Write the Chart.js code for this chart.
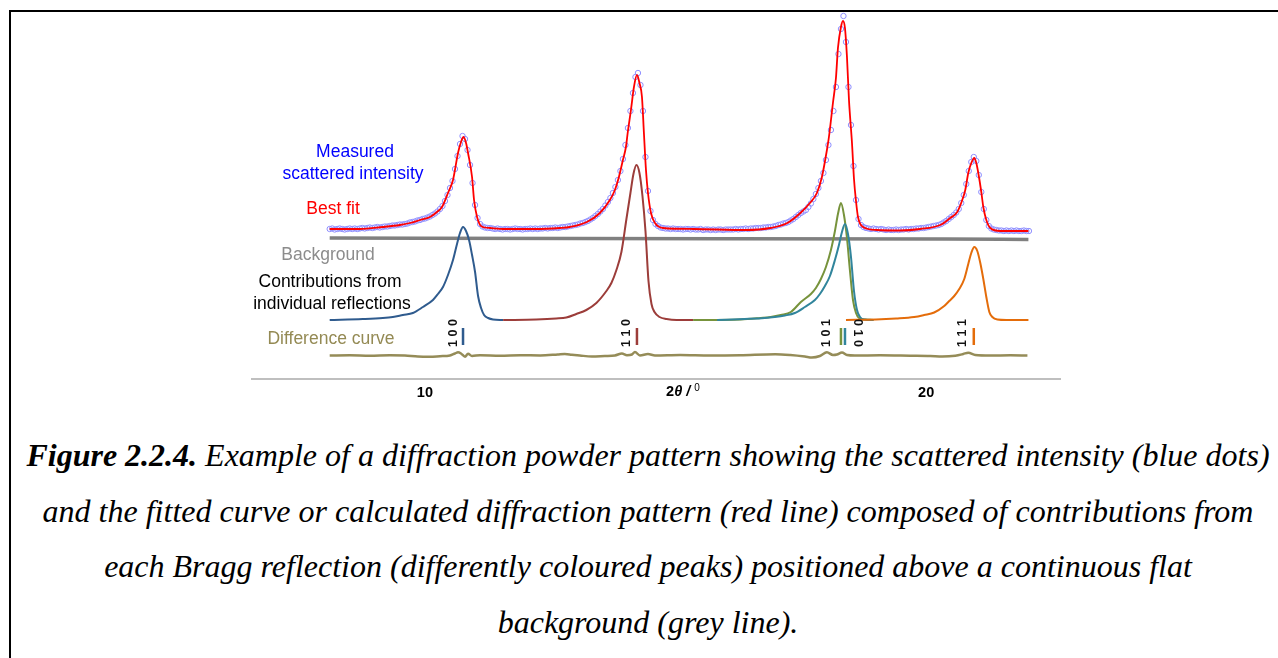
<!DOCTYPE html>
<html>
<head>
<meta charset="utf-8">
<script src="https://cdn.jsdelivr.net/npm/chart.js@4"></script>
<style>
  body { margin: 0; background: #fff; width: 1278px; height: 658px; overflow: hidden; position: relative;
         font-family: "Liberation Sans", Arial, sans-serif; }
  #frame { position: absolute; left: 9px; top: 10px; width: 1300px; height: 700px;
           border-top: 2px solid #000; border-left: 2px solid #000; }
  #wrap { position: absolute; left: 0; top: 0; width: 1278px; height: 420px; }
  .lbl { position: absolute; transform: translate(-50%, -50%); white-space: nowrap; font-size: 17.5px; }
  #caption { position: absolute; left: 20px; width: 1256px; top: 428px; text-align: center;
             font-family: "Liberation Serif", "Times New Roman", serif; font-style: italic;
             font-size: 32px; line-height: 55.7px; color: #000; }
</style>
</head>
<body>
<div id="frame"></div>
<div id="wrap"><canvas id="xrd" width="1278" height="420"></canvas></div>

<div class="lbl" style="left:355px;top:151px;color:#0000ff">Measured</div>
<div class="lbl" style="left:353px;top:173px;color:#0000ff">scattered intensity</div>
<div class="lbl" style="left:333px;top:208px;color:#ff0000">Best fit</div>
<div class="lbl" style="left:328px;top:254px;color:#8c8c8c">Background</div>
<div class="lbl" style="left:330px;top:281px;color:#000">Contributions from</div>
<div class="lbl" style="left:332px;top:303px;color:#000">individual reflections</div>
<div class="lbl" style="left:331px;top:338px;color:#948a54">Difference curve</div>
<div class="lbl" style="left:683px;top:391px;font-size:14.5px;font-weight:bold">2<i>θ</i> <i>/</i> <span style="font-weight:normal;font-size:10px;position:relative;top:-5px">0</span></div>

<div id="caption"><b>Figure 2.2.4.</b> Example of a diffraction powder pattern showing the scattered intensity (blue dots)<br>and the fitted curve or calculated diffraction pattern (red line) composed of contributions from<br>each Bragg reflection (differently coloured peaks) positioned above a continuous flat<br>background (grey line).</div>

<script>
// 測定データ (2θ = 8.10° から 0.05° 刻み)
const scanStart = 8.10;
const scanStep = 0.05;
const measured = [
  150, 150.5, 149.5, 150, 150.5, 150, 149.5, 150, 150.5, 150, 150.5, 150, 150.5, 151, 150.5, 151, 151.5, 151, 151.5, 152,
  151.5, 152, 152.5, 152.5, 153, 153.5, 153.5, 154, 154.5, 154.5, 155, 155.5, 156.5, 157, 157.5, 158.5, 159, 160, 160.5, 161.5,
  162.5, 164, 165.5, 167.5, 170, 173, 178, 184, 191, 198, 210, 223, 235, 243, 240, 229, 214, 196, 174, 161,
  155, 152.5, 151.5, 151, 151, 150.5, 150, 150.5, 150, 149.5, 150, 150, 149.5, 150, 150.5, 150, 150, 149.5, 150, 150,
  150.5, 150, 150.5, 150, 150.5, 150.5, 151, 150.5, 151, 151, 151.5, 151, 151.5, 152, 152, 152.5, 153, 153.5, 154, 154.5,
  155.5, 156, 157, 158, 159.5, 161, 163, 165, 167.5, 170, 173.5, 177, 181, 186, 192, 199, 208, 220, 234, 251,
  268, 286, 302, 306, 294, 268, 222, 188, 168, 159, 155, 153, 151.5, 151, 150.5, 150.5, 150, 150.5, 150, 150,
  150, 149.5, 150, 150, 149.5, 150, 149.5, 149.5, 150, 149, 149.5, 149.5, 149, 149.5, 149, 149.5, 149.5, 149, 149.5, 149.5,
  149.5, 149.5, 150, 149.5, 150, 150, 150.5, 150, 150.5, 150.5, 151, 151, 151, 151.5, 151.5, 152, 152, 152.5, 153, 154,
  154.5, 155.5, 156, 157, 158.5, 160, 162, 164, 166, 167.5, 169, 172, 175.5, 180, 185, 191, 198, 206, 219, 234,
  249, 268, 292, 325, 350, 363, 337, 292, 254, 213, 179, 160, 154, 152, 151, 150.5, 150, 150.5, 150, 149.5,
  150, 149.5, 149, 149.5, 149, 149, 149.5, 149, 149.5, 149.5, 150, 149.5, 150, 150, 150.5, 150.5, 151, 151, 151.5, 152,
  152.5, 153, 153.5, 154, 155, 156.5, 158, 160, 162, 164, 166.5, 170, 176, 184, 195, 208, 217, 222, 218, 204,
  187, 170, 159, 153, 150.5, 149.5, 149, 148.5, 148.5, 148, 148.5, 148, 148.5, 148, 148.5, 148, 148, 148.5, 148, 148
];

// 最適フィット曲線
const fitX = [8.10, 8.70, 9.16, 9.50, 9.70, 9.90, 10.10, 10.24, 10.34, 10.46, 10.56, 10.66, 10.72, 10.77, 10.82, 10.86,
  10.94, 10.98, 11.04, 11.10, 11.20, 11.30, 11.60, 12.20, 12.69, 12.89, 13.23, 13.49, 13.69, 13.79, 13.87, 13.95, 14.01,
  14.05, 14.11, 14.17, 14.23, 14.28, 14.33, 14.37, 14.41, 14.45, 14.51, 14.59, 14.75, 15.35, 16.40, 16.89, 17.23, 17.49,
  17.68, 17.82, 17.92, 18.02, 18.06, 18.14, 18.20, 18.24, 18.30, 18.34, 18.38, 18.42, 18.46, 18.52, 18.56, 18.60, 18.64,
  18.74, 19.02, 19.48, 19.88, 20.28, 20.48, 20.62, 20.72, 20.78, 20.84, 20.90, 20.96, 21.00, 21.04, 21.10, 21.14, 21.20,
  21.28, 21.48, 22.04];
const fitY = [150, 150, 152, 154, 156, 159, 162, 167, 172, 186, 199, 226, 237, 242, 236, 226,
  202, 179, 162, 154, 151.5, 151, 150, 150, 151, 152, 157, 166, 179, 189, 202, 219, 232,
  248, 269, 292, 304, 296, 282, 245, 209, 186, 166, 156, 151, 150, 149, 151, 156, 166,
  176, 186, 202, 229, 242, 276, 301, 331, 352, 358, 351, 322, 279, 236, 200, 178, 162,
  152, 149, 148.5, 150, 154, 161, 167, 179, 189, 206, 216, 221, 216, 206, 187, 172, 159,
  151, 148, 148];

// バックグラウンド
const bgX = [8.10, 13.00, 20.40, 22.04];
const bgY = [141, 140.5, 140, 139.5];

// 各反射の寄与
const blueX = [8.10, 8.76, 9.16, 9.36, 9.56, 9.76, 9.96, 10.16, 10.26, 10.36, 10.46, 10.56, 10.64, 10.70, 10.76, 10.82,
  10.88, 10.94, 11.00, 11.06, 11.12, 11.18, 11.26, 11.36, 11.56];
const blueY = [59, 60, 61, 62, 64, 66, 72, 79, 85, 92, 104, 119, 135, 146, 152, 148,
  139, 124, 107, 83, 71, 64, 61, 59.5, 59];
const brownX = [11.56, 12.22, 12.62, 12.82, 13.02, 13.22, 13.42, 13.62, 13.72, 13.82, 13.92, 14.02, 14.10, 14.16, 14.22,
  14.28, 14.34, 14.40, 14.46, 14.52, 14.58, 14.68, 14.82, 15.02, 15.35];
const brownY = [59, 59.5, 60.5, 61.5, 65, 69, 76, 88, 96, 109, 127, 160, 186, 205, 214,
  206, 183, 148, 98, 75, 67, 62, 60, 59, 59];
const greenX = [15.35, 16.30, 16.70, 16.90, 17.10, 17.30, 17.50, 17.70, 17.80, 17.90, 18.00, 18.10, 18.18, 18.24, 18.30,
  18.36, 18.42, 18.48, 18.54, 18.60, 18.66, 18.78, 18.95];
const greenY = [59, 59.5, 61, 62, 64, 67, 77, 85, 91, 100, 112, 129, 148, 165, 176,
  164, 141, 108, 79, 66, 61, 59.5, 59];
const tealX = [15.83, 16.38, 16.78, 16.98, 17.18, 17.38, 17.58, 17.78, 17.88, 17.98, 18.08, 18.18, 18.26, 18.32, 18.38,
  18.44, 18.50, 18.56, 18.62, 18.68, 18.76, 18.95];
const tealY = [59, 60, 61, 62, 63.5, 66, 72, 79, 85, 93, 103, 119, 134, 147, 155,
  145, 122, 88, 69, 62, 59.5, 59];
const orangeX = [18.40, 19.00, 19.40, 19.76, 19.96, 20.16, 20.36, 20.46, 20.56, 20.66, 20.76, 20.84, 20.90, 20.96, 21.02,
  21.08, 21.14, 21.20, 21.26, 21.32, 21.42, 21.60, 22.04];
const orangeY = [59, 59.5, 60.5, 62, 64, 66.5, 73, 78, 83, 90, 100, 115, 126, 132, 128,
  116, 100, 82, 67, 62, 59.5, 59, 59];

// 差分曲線
const diffX = [8.10, 8.50, 8.90, 9.30, 9.60, 9.86, 10.10, 10.30, 10.50, 10.60, 10.66, 10.72, 10.80, 10.86, 10.94, 11.10,
  11.50, 11.90, 12.30, 12.65, 12.79, 12.93, 13.09, 13.33, 13.59, 13.79, 13.93, 14.03, 14.13, 14.19, 14.29, 14.45, 14.59,
  15.09, 15.69, 16.29, 16.99, 17.29, 17.58, 17.72, 17.88, 18.02, 18.14, 18.22, 18.32, 18.42, 18.58, 19.08, 19.68, 20.08,
  20.32, 20.58, 20.74, 20.84, 20.98, 21.28, 21.68, 22.02];
const diffY = [23.5, 23.8, 23.3, 23.8, 23.5, 22.5, 22.3, 22.8, 23.5, 25.5, 26.7, 25.5, 22.3, 25.3, 23.0, 23.8,
  23.3, 23.8, 23.5, 24.5, 25.0, 24.3, 23.5, 22.5, 23.0, 23.5, 25.5, 23.8, 24.5, 27.0, 23.5, 25.0, 23.5,
  24.0, 23.5, 23.8, 24.8, 24.0, 22.5, 21.5, 23.0, 26.7, 24.0, 24.5, 26.5, 24.0, 23.5, 23.7, 23.3, 23.0,
  22.5, 23.3, 25.0, 26.3, 24.0, 23.5, 23.7, 23.5];

// ブラッグ反射の位置
const reflHkl = ["1 0 0", "1 1 0", "1 0 1", "0 1 0", "1 1 1"];
const reflPos = [10.76, 14.23, 18.30, 18.38, 20.95];
const reflBar = [34, 51];
const xTicks = [10, 20];

const colors = ["#2f5b8e", "#9c3d3a", "#77933c", "#31859c", "#e46c0a"];

const zip = (xs, ys) => xs.map((x, i) => ({ x: x, y: ys[i] }));
const line = (data, color, width) => ({
  type: "line", data: data, borderColor: color, borderWidth: width,
  pointRadius: 0, fill: false, cubicInterpolationMode: "monotone"
});

const measuredPoints = measured.map((v, i) => ({ x: scanStart + i * scanStep, y: v }));

const barSets = reflPos.map((p, i) =>
  line([{ x: p, y: reflBar[0] }, { x: p, y: reflBar[1] }], colors[i], 2.5));

// hkl ラベル (縦書き)
const hklShift = [-9, -10, -14, 12, -11];
const hklRot = [-1, -1, -1, 1, -1];
const hklPlugin = {
  id: "hkl",
  afterDatasetsDraw(chart) {
    const { ctx, scales } = chart;
    ctx.save();
    ctx.font = 'bold 12.5px "Liberation Sans", Arial, sans-serif';
    ctx.fillStyle = "#111";
    ctx.textAlign = "center";
    ctx.textBaseline = "middle";
    reflHkl.forEach((t, i) => {
      const px = scales.x.getPixelForValue(reflPos[i]) + hklShift[i];
      const py = scales.y.getPixelForValue(46);
      ctx.save();
      ctx.translate(px, py);
      ctx.rotate(hklRot[i] * Math.PI / 2);
      ctx.fillText(t, 0, 0);
      ctx.restore();
    });
    ctx.restore();
  }
};

const ctx = document.getElementById("xrd").getContext("2d");
new Chart(ctx, {
  type: "line",
  data: {
    datasets: [
      line(zip(fitX, fitY), "#ff0000", 1.8),
      {
        type: "line", data: measuredPoints, showLine: false,
        pointRadius: 2.7, pointBorderWidth: 1, pointBorderColor: "#9090ff",
        pointBackgroundColor: "rgba(0,0,0,0)"
      },
      ...barSets,
      line(zip(orangeX, orangeY), colors[4], 2),
      line(zip(tealX, tealY), colors[3], 2),
      line(zip(greenX, greenY), colors[2], 2),
      line(zip(brownX, brownY), colors[1], 2),
      line(zip(blueX, blueY), colors[0], 2),
      line(zip(bgX, bgY), "#808080", 3.5),
      line(zip(diffX, diffY), "#958c58", 2.5)
    ]
  },
  options: {
    responsive: false,
    animation: false,
    devicePixelRatio: 1,
    layout: { padding: { left: 252, right: 218, top: 12, bottom: 0 } },
    plugins: { legend: { display: false }, tooltip: { enabled: false } },
    scales: {
      x: {
        type: "linear", min: 6.55, max: 22.67,
        grid: { display: false, drawTicks: false },
        border: { display: true, color: "#bfbfbf", width: 2 },
        ticks: { color: "#000", padding: 5, font: { family: '"Liberation Sans", Arial', size: 14.5, weight: "bold" } },
        afterBuildTicks(scale) { scale.ticks = xTicks.map((v) => ({ value: v })); },
        afterFit(scale) { scale.height = 41; }
      },
      y: { type: "linear", min: 0, max: 367, display: false }
    }
  },
  plugins: [hklPlugin]
});
</script>
</body>
</html>
